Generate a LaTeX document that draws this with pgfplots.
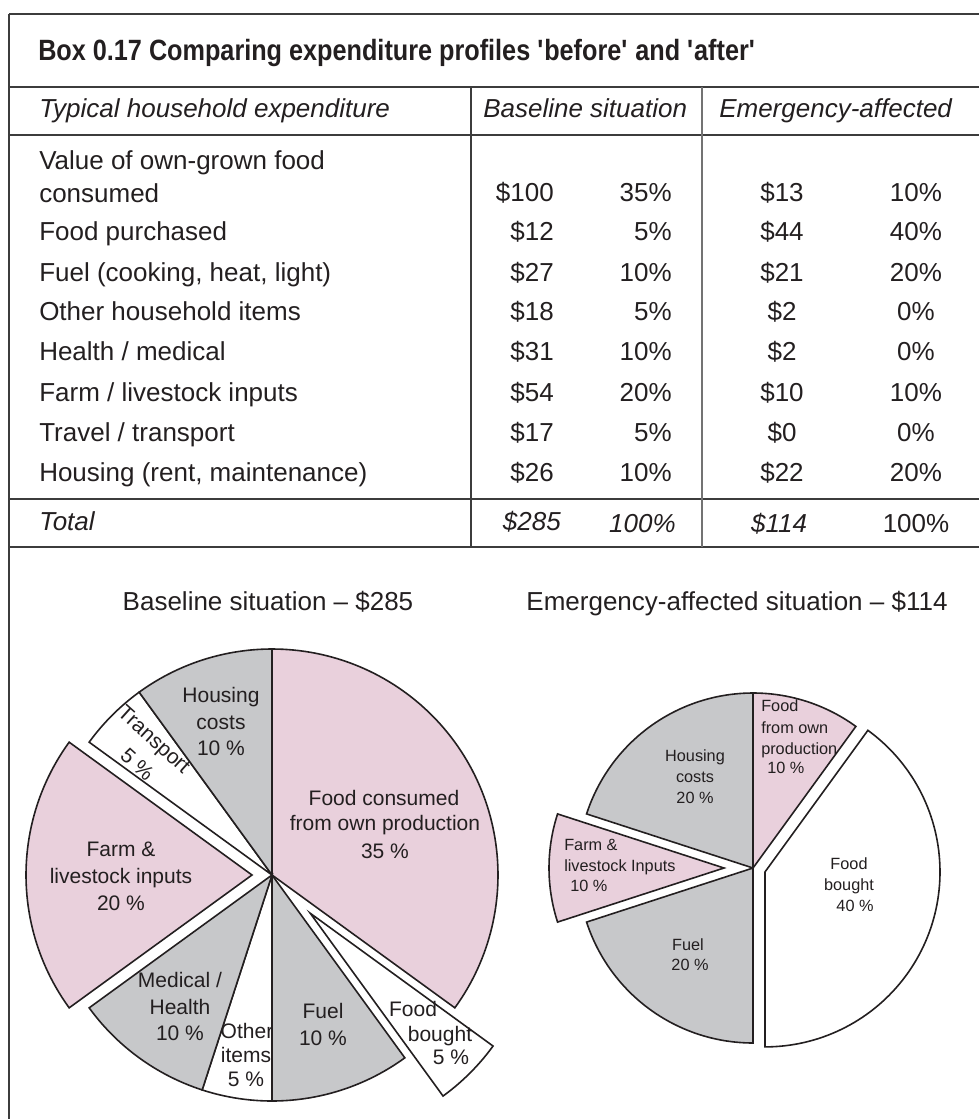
\documentclass[border=0pt]{standalone}
\usepackage{pgfplots}
\pgfplotsset{compat=1.18}
\usepackage{fontspec}
\setmainfont{Liberation Sans}
\newfontfamily\titlefont{Liberation Sans}[FakeStretch=0.86]
\definecolor{piepink}{RGB}{233,208,220}
\definecolor{piegray}{RGB}{199,200,202}
\definecolor{ink}{RGB}{35,31,32}
\definecolor{rule}{RGB}{60,60,60}
\newcommand{\bodyfont}{\fontsize{19.5}{24}\selectfont}
\tikzset{
  slice/.style={draw=ink, line width=1.2pt},
  rl/.style={draw=rule, line width=1.1pt},
  tb/.style={font=\bodyfont, text=ink, inner sep=0pt},
  pl/.style={font=\fontsize{15.75}{19}\selectfont, text=ink, anchor=mid, inner sep=0pt},
  el/.style={font=\fontsize{12.2}{15}\selectfont, text=ink, inner sep=0pt},
}
\begin{document}
\begin{tikzpicture}
\begin{axis}[
  scale only axis, width=734.25pt, height=839.25pt,
  xmin=0, xmax=979, ymin=0, ymax=1119, y dir=reverse,
  hide axis, clip=false,
]
% ---------- frame and table rules ----------
\addplot[rl] coordinates {(9,14) (979,14)};
\addplot[rl] coordinates {(9,14) (9,1119)};
\addplot[rl] coordinates {(9,87) (979,87)};
\addplot[rl] coordinates {(9,135) (979,135)};
\addplot[rl] coordinates {(9,499) (979,499)};
\addplot[rl] coordinates {(9,547) (979,547)};
\addplot[rl] coordinates {(471,87) (471,547)};
\addplot[draw=gray!90!black, line width=0.8pt] coordinates {(702,87) (702,547)};
% ---------- title ----------
\node[tb, anchor=base west, font=\titlefont\fontsize{22}{26}\selectfont\bfseries] at (axis cs:38,61) {Box 0.17 Comparing expenditure profiles \textquotesingle before\textquotesingle\ and \textquotesingle after\textquotesingle};
% ---------- header ----------
\node[tb, anchor=base west, font=\bodyfont\itshape] at (axis cs:39,118) {Typical household expenditure};
\node[tb, anchor=base west, font=\bodyfont\itshape] at (axis cs:483,118) {Baseline situation};
\node[tb, anchor=base west, font=\bodyfont\itshape] at (axis cs:719,118) {Emergency-affected};
% ---------- row names ----------
\node[tb, anchor=base west] at (axis cs:39,170) {Value of own-grown food};
\node[tb, anchor=base west] at (axis cs:39,203) {consumed};
\node[tb, anchor=base west] at (axis cs:39,241) {Food purchased};
\node[tb, anchor=base west] at (axis cs:39,282) {Fuel (cooking, heat, light)};
\node[tb, anchor=base west] at (axis cs:39,321) {Other household items};
\node[tb, anchor=base west] at (axis cs:39,361) {Health / medical};
\node[tb, anchor=base west] at (axis cs:39,401) {Farm / livestock inputs};
\node[tb, anchor=base west] at (axis cs:39,441) {Travel / transport};
\node[tb, anchor=base west] at (axis cs:39,481) {Housing (rent, maintenance)};
\node[tb, anchor=base west, font=\bodyfont\itshape] at (axis cs:39,530) {Total};
% ---------- baseline dollars ----------
\node[tb, anchor=base east] at (axis cs:554,202) {\$100};
\node[tb, anchor=base east] at (axis cs:554,241) {\$12};
\node[tb, anchor=base east] at (axis cs:554,282) {\$27};
\node[tb, anchor=base east] at (axis cs:554,321) {\$18};
\node[tb, anchor=base east] at (axis cs:554,361) {\$31};
\node[tb, anchor=base east] at (axis cs:554,401) {\$54};
\node[tb, anchor=base east] at (axis cs:554,441) {\$17};
\node[tb, anchor=base east] at (axis cs:554,481) {\$26};
\node[tb, anchor=base east, font=\bodyfont\itshape] at (axis cs:561,530) {\$285};
% ---------- baseline percents ----------
\node[tb, anchor=base east] at (axis cs:672,202) {35\%};
\node[tb, anchor=base east] at (axis cs:672,241) {5\%};
\node[tb, anchor=base east] at (axis cs:672,282) {10\%};
\node[tb, anchor=base east] at (axis cs:672,321) {5\%};
\node[tb, anchor=base east] at (axis cs:672,361) {10\%};
\node[tb, anchor=base east] at (axis cs:672,401) {20\%};
\node[tb, anchor=base east] at (axis cs:672,441) {5\%};
\node[tb, anchor=base east] at (axis cs:672,481) {10\%};
\node[tb, anchor=base east, font=\bodyfont\itshape] at (axis cs:676,532) {100\%};
% ---------- emergency dollars ----------
\node[tb, anchor=base] at (axis cs:782,202) {\$13};
\node[tb, anchor=base] at (axis cs:782,241) {\$44};
\node[tb, anchor=base] at (axis cs:782,282) {\$21};
\node[tb, anchor=base] at (axis cs:782,321) {\$2};
\node[tb, anchor=base] at (axis cs:782,361) {\$2};
\node[tb, anchor=base] at (axis cs:782,401) {\$10};
\node[tb, anchor=base] at (axis cs:782,441) {\$0};
\node[tb, anchor=base] at (axis cs:782,481) {\$22};
\node[tb, anchor=base, font=\bodyfont\itshape] at (axis cs:779,532) {\$114};
% ---------- emergency percents ----------
\node[tb, anchor=base] at (axis cs:916,202) {10\%};
\node[tb, anchor=base] at (axis cs:916,241) {40\%};
\node[tb, anchor=base] at (axis cs:916,282) {20\%};
\node[tb, anchor=base] at (axis cs:916,321) {0\%};
\node[tb, anchor=base] at (axis cs:916,361) {0\%};
\node[tb, anchor=base] at (axis cs:916,401) {10\%};
\node[tb, anchor=base] at (axis cs:916,441) {0\%};
\node[tb, anchor=base] at (axis cs:916,481) {20\%};
\node[tb, anchor=base] at (axis cs:916,532) {100\%};
% ---------- pie titles ----------
\node[tb, anchor=base] at (axis cs:268,610) {Baseline situation -- \$285};
\node[tb, anchor=base] at (axis cs:737,610) {Emergency-affected situation -- \$114};
% ---------- baseline pie: centre (272,875), r = 226 ----------
% shares: own food 35, food bought 5, fuel 10, other 5, medical 10, farm 20, transport 5, housing 10 (x 3.6 deg)
\addplot[slice, fill=piepink, domain=-36:90, samples=90] ({272+226*cos(x)},{875-226*sin(x)}) -- (axis cs:272,875) -- cycle;
\addplot[slice, fill=white, domain=-54:-36, samples=20] ({310.2+226*cos(x)},{913.2-226*sin(x)}) -- (axis cs:310.2,913.2) -- cycle;
\addplot[slice, fill=piegray, domain=-90:-54, samples=30] ({272+226*cos(x)},{875-226*sin(x)}) -- (axis cs:272,875) -- cycle;
\addplot[slice, fill=white, domain=-108:-90, samples=20] ({272+226*cos(x)},{875-226*sin(x)}) -- (axis cs:272,875) -- cycle;
\addplot[slice, fill=piegray, domain=-144:-108, samples=30] ({272+226*cos(x)},{875-226*sin(x)}) -- (axis cs:272,875) -- cycle;
\addplot[slice, fill=piepink, domain=-216:-144, samples=50] ({252+226*cos(x)},{875-226*sin(x)}) -- (axis cs:252,875) -- cycle;
\addplot[slice, fill=white, domain=-234:-216, samples=20] ({272+226*cos(x)},{875-226*sin(x)}) -- (axis cs:272,875) -- cycle;
\addplot[slice, fill=piegray, domain=-270:-234, samples=30] ({272+226*cos(x)},{875-226*sin(x)}) -- (axis cs:272,875) -- cycle;
% ---------- emergency pie: centre (753,868), r = 175 ----------
% shares: own food 10, food bought 40, fuel 20, farm 10, housing 20
\addplot[slice, fill=piepink, domain=54:90, samples=30] ({753+175*cos(x)},{868-175*sin(x)}) -- (axis cs:753,868) -- cycle;
\addplot[slice, fill=white, domain=-90:54, samples=90] ({765+175*cos(x)},{871.9-175*sin(x)}) -- (axis cs:765,871.9) -- cycle;
\addplot[slice, fill=piegray, domain=-162:-90, samples=50] ({753+175*cos(x)},{868-175*sin(x)}) -- (axis cs:753,868) -- cycle;
\addplot[slice, fill=piepink, domain=-198:-162, samples=30] ({724+175*cos(x)},{868-175*sin(x)}) -- (axis cs:724,868) -- cycle;
\addplot[slice, fill=piegray, domain=-270:-198, samples=50] ({753+175*cos(x)},{868-175*sin(x)}) -- (axis cs:753,868) -- cycle;
% ---------- baseline labels ----------
\node[pl] at (axis cs:221,699) {Housing};
\node[pl] at (axis cs:221,726) {costs};
\node[pl] at (axis cs:221,752) {10 \%};
\node[pl, rotate=-42] at (axis cs:152,742) {Transport};
\node[pl, rotate=-42] at (axis cs:135,767) {5 \%};
\node[pl] at (axis cs:384,802) {Food consumed};
\node[pl] at (axis cs:385,827) {from own production};
\node[pl] at (axis cs:385,855) {35 \%};
\node[pl] at (axis cs:121,853) {Farm \&};
\node[pl] at (axis cs:121,880) {livestock inputs};
\node[pl] at (axis cs:121,907) {20 \%};
\node[pl] at (axis cs:180,984) {Medical /};
\node[pl] at (axis cs:180,1011) {Health};
\node[pl] at (axis cs:180,1037) {10 \%};
\node[pl] at (axis cs:247,1035) {Other};
\node[pl] at (axis cs:246,1059) {items};
\node[pl] at (axis cs:246,1083) {5 \%};
\node[pl] at (axis cs:323,1015) {Fuel};
\node[pl] at (axis cs:323,1042) {10 \%};
\node[pl] at (axis cs:413,1013) {Food};
\node[pl] at (axis cs:440,1038) {bought};
\node[pl] at (axis cs:451,1061) {5 \%};
% ---------- emergency labels ----------
\node[el, anchor=mid west] at (axis cs:761,708) {Food};
\node[el, anchor=mid west] at (axis cs:761,730) {from own};
\node[el, anchor=mid west] at (axis cs:761,751) {production};
\node[el, anchor=mid west] at (axis cs:767,770) {10 \%};
\node[el, anchor=mid] at (axis cs:695,758) {Housing};
\node[el, anchor=mid] at (axis cs:695,779) {costs};
\node[el, anchor=mid] at (axis cs:695,800) {20 \%};
\node[el, anchor=mid west] at (axis cs:564,847) {Farm \&};
\node[el, anchor=mid west] at (axis cs:564,868) {livestock Inputs};
\node[el, anchor=mid west] at (axis cs:570,888) {10 \%};
\node[el, anchor=mid] at (axis cs:849,866) {Food};
\node[el, anchor=mid] at (axis cs:849,887) {bought};
\node[el, anchor=mid] at (axis cs:855,908) {40 \%};
\node[el, anchor=mid] at (axis cs:688,947) {Fuel};
\node[el, anchor=mid] at (axis cs:690,967) {20 \%};
\end{axis}
\pgfresetboundingbox
\path (current axis.south west) rectangle (current axis.north east);
\end{tikzpicture}
\end{document}
